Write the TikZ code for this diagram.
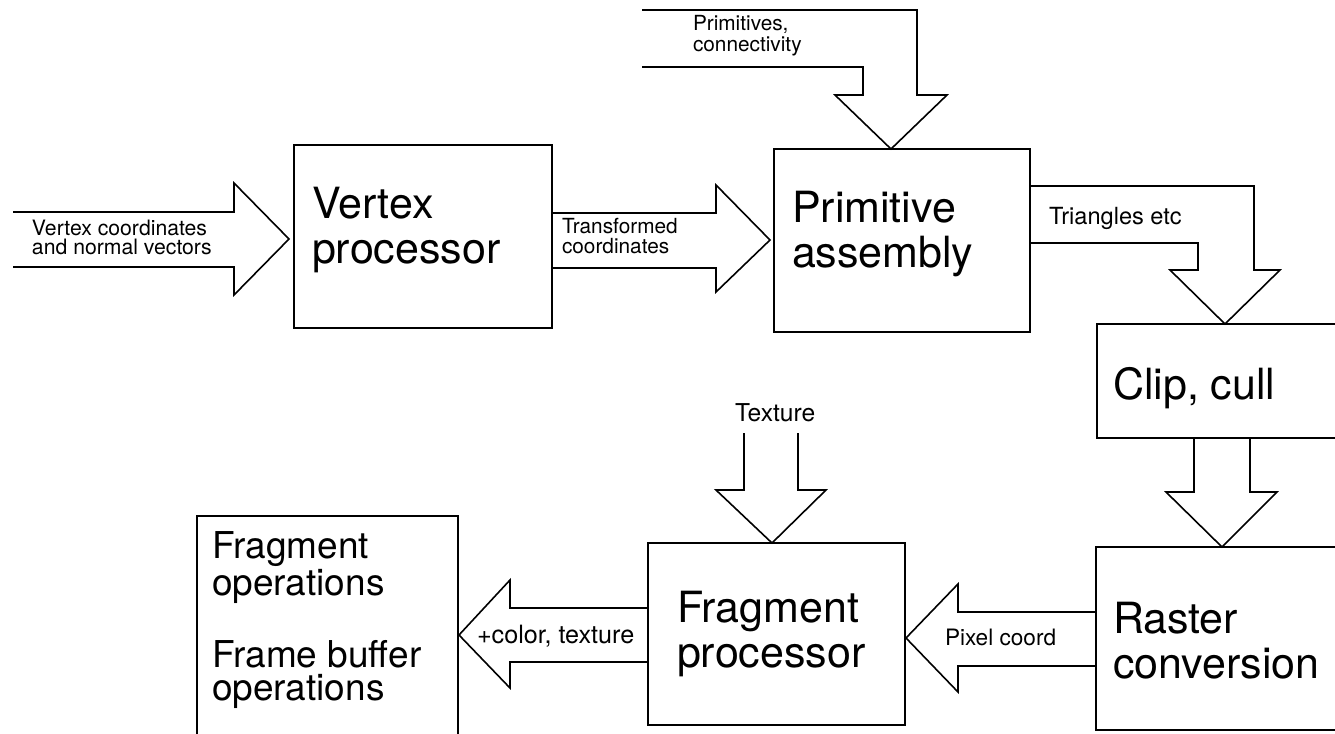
\documentclass[tikz,border=0pt]{standalone}
\usepackage{fontspec}
\setmainfont{TeX Gyre Heros}
\begin{document}
\begin{tikzpicture}[x=0.5pt,y=-0.5pt,
  every node/.style={inner sep=0pt, outer sep=0pt},
  box/.style={draw, line width=0.8pt, rectangle, anchor=north west},
  blk/.style={draw, line width=0.8pt, line join=miter},
  big/.style={anchor=base west, align=left, font=\fontsize{21.5}{22.5}\selectfont},
  mid/.style={anchor=base west, align=left, font=\fontsize{18.5}{16.5}\selectfont},
  sml/.style={anchor=base west, align=left, font=\fontsize{10.6}{9.3}\selectfont}
]
\useasboundingbox (0,0) rectangle (1335,734);
% boxes
\node[box, minimum width=129pt, minimum height=91.5pt] (vp) at (294,145) {};
\node[box, minimum width=128pt, minimum height=91.5pt] (pa) at (774,149) {};
\node[box, minimum width=130pt, minimum height=57pt] (cc) at (1097,324) {};
\node[box, minimum width=130pt, minimum height=91.5pt] (rc) at (1096,547) {};
\node[box, minimum width=128.5pt, minimum height=91pt] (fp) at (648,543) {};
\node[box, minimum width=130.5pt, minimum height=130pt] (fo) at (197,516) {};
% box texts (base anchor = baseline of last line)
\node[big] (vpt) at (312,263) {Vertex\\processor};
\node[big] (pat) at (792,267) {Primitive\\assembly};
\node[big] (cct) at (1113,399) {Clip, cull};
\node[big] (rct) at (1113,678) {Raster\\conversion};
\node[big] (fpt) at (677,667) {Fragment\\processor};
\node[mid] (fot1) at (212,595) {Fragment\\operations};
\node[mid] (fot2) at (212,700) {Frame buffer\\operations};
% block arrows
\draw[blk] (13,212) -- (234,212) -- (234,183) -- (289,239) -- (234,295) -- (234,267) -- (13,267);
\draw[blk] (vp.east |- 0,213) -- (716,213) -- (716,185) -- (770,240) -- (716,292) -- (716,268) -- (vp.east |- 0,268);
\draw[blk] (642,10) -- (917,10) -- (917,95) -- (947,95) -- (pa.north -| 891,0) -- (835,95) -- (863,95) -- (863,67) -- (642,67);
\draw[blk] (pa.east |- 0,186) -- (1254,186) -- (1254,270) -- (1280,270) -- (cc.north -| 1225,0) -- (1170,270) -- (1198,270) -- (1198,243) -- (pa.east |- 0,243);
\draw[blk] (cc.south -| 1194,0) -- (1194,492) -- (1166,492) -- (rc.north -| 1222,0) -- (1277,492) -- (1250,492) -- (cc.south -| 1250,0);
\draw[blk] (rc.west |- 0,612) -- (958,612) -- (958,584) -- (906,638) -- (958,692) -- (958,666) -- (rc.west |- 0,666);
\draw[blk] (fp.west |- 0,608) -- (510,608) -- (510,580) -- (459,635) -- (510,688) -- (510,662) -- (fp.west |- 0,662);
\draw[blk] (744,433) -- (744,490) -- (716,490) -- (fp.north -| 772,0) -- (826,490) -- (798,490) -- (798,433);
% arrow labels
\node[sml] (l1) at (32,254) {Vertex coordinates\\and normal vectors};
\node[sml, font=\fontsize{10.4}{9.6}\selectfont] (l2) at (562,253) {Transformed\\coordinates};
\node[sml, font=\fontsize{10.4}{10.8}\selectfont] (l3) at (693,51.7) {Primitives,\\connectivity};
\node[sml, font=\fontsize{11.8}{12}\selectfont] (l4) at (1049,224) {Triangles etc};
\node[sml, font=\fontsize{11.3}{12}\selectfont] (l5) at (945,645) {Pixel coord};
\node[sml, font=\fontsize{12.3}{12}\selectfont] (l6) at (735,421) {Texture};
\node[sml, font=\fontsize{12.6}{12}\selectfont] (l7) at (477,643) {+color, texture};
\end{tikzpicture}
\end{document}
